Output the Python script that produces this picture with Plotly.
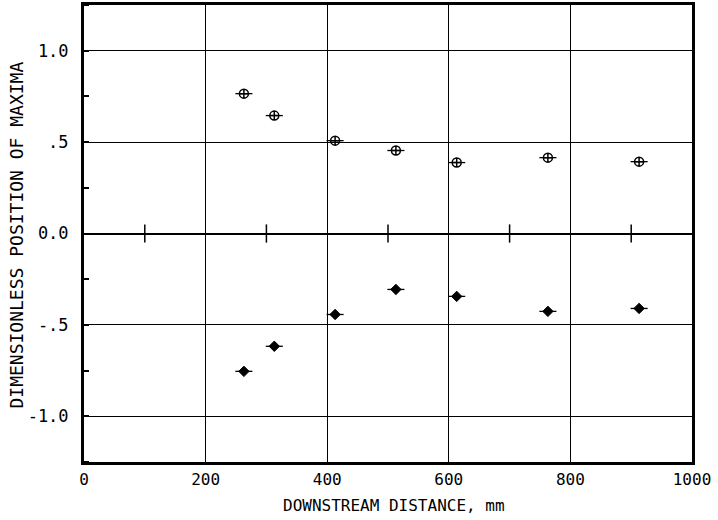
import plotly.graph_objects as go

# Data
x_dist = [263, 313, 413, 513, 613, 763, 913]
y_upper = [0.765, 0.645, 0.508, 0.454, 0.388, 0.415, 0.393]
y_lower = [-0.754, -0.617, -0.443, -0.306, -0.344, -0.426, -0.410]
x_tickvals = [0, 200, 400, 600, 800, 1000]
x_ticktext = ["0", "200", "400", "600", "800", "1000"]
y_tickvals = [-1.0, -0.5, 0.0, 0.5, 1.0]
y_ticktext = ["-1.0", "-.5", "0.0", ".5", "1.0"]
zero_line_ticks = [100, 300, 500, 700, 900]
x_title = "DOWNSTREAM DISTANCE, mm"
y_title = "DIMENSIONLESS POSITION OF MAXIMA"

FONT = "DejaVu Sans Mono"

fig = go.Figure()

# ticks drawn on the zero line
fig.add_trace(go.Scatter(
    x=zero_line_ticks, y=[0] * len(zero_line_ticks), mode="markers",
    marker=dict(symbol="line-ns-open", size=13, color="black",
                line=dict(color="black", width=1.5)),
    hoverinfo="skip", showlegend=False))

fig.add_trace(go.Scatter(
    x=x_dist, y=y_upper, mode="markers", name="upper",
    marker=dict(symbol="circle-cross-open", size=9, color="black",
                line=dict(color="black", width=1.5)),
    error_x=dict(type="constant", value=14, width=0, thickness=1.3, color="black"),
    showlegend=False))

fig.add_trace(go.Scatter(
    x=x_dist, y=y_lower, mode="markers", name="lower",
    marker=dict(symbol="diamond", size=8, color="black",
                line=dict(color="black", width=1)),
    error_x=dict(type="constant", value=14, width=0, thickness=1.3, color="black"),
    showlegend=False))

fig.update_layout(
    width=718, height=520,
    margin=dict(l=84, r=26, t=5, b=58),
    paper_bgcolor="white", plot_bgcolor="white",
    font=dict(family=FONT, size=17, color="black"),
    annotations=[
        dict(text=x_title, xref="paper", yref="paper", x=0.5, y=0,
             xanchor="center", yanchor="middle", xshift=6, yshift=-43,
             showarrow=False, font=dict(family=FONT, size=16)),
        dict(text=y_title, xref="paper", yref="paper", x=0, y=0.5,
             xanchor="center", yanchor="middle", xshift=-68, yshift=-2,
             textangle=-90, showarrow=False, font=dict(family=FONT, size=18)),
    ],
)

fig.update_xaxes(
    range=[0, 1000], tickvals=x_tickvals, ticktext=x_ticktext,
    automargin=False,
    showgrid=True, gridcolor="black", gridwidth=1,
    showline=True, linecolor="black", linewidth=3, mirror=True,
    zeroline=False, ticks="", ticklabelstandoff=1,
    tickfont=dict(family=FONT, size=16),
)

fig.update_yaxes(
    range=[-1.25, 1.25], tickvals=y_tickvals, ticktext=y_ticktext,
    automargin=False,
    showgrid=True, gridcolor="black", gridwidth=1,
    showline=True, linecolor="black", linewidth=3, mirror=True,
    zeroline=True, zerolinecolor="black", zerolinewidth=1.5,
    ticks="", ticklabelstandoff=9,
    minor=dict(ticks="inside", ticklen=5, tickcolor="black", tickwidth=1.5,
               dtick=0.25, tick0=0, showgrid=False),
    tickfont=dict(family=FONT, size=17),
)

fig.write_html("out.html", config={"displayModeBar": False},
               post_script="document.body.style.margin='0px';")
